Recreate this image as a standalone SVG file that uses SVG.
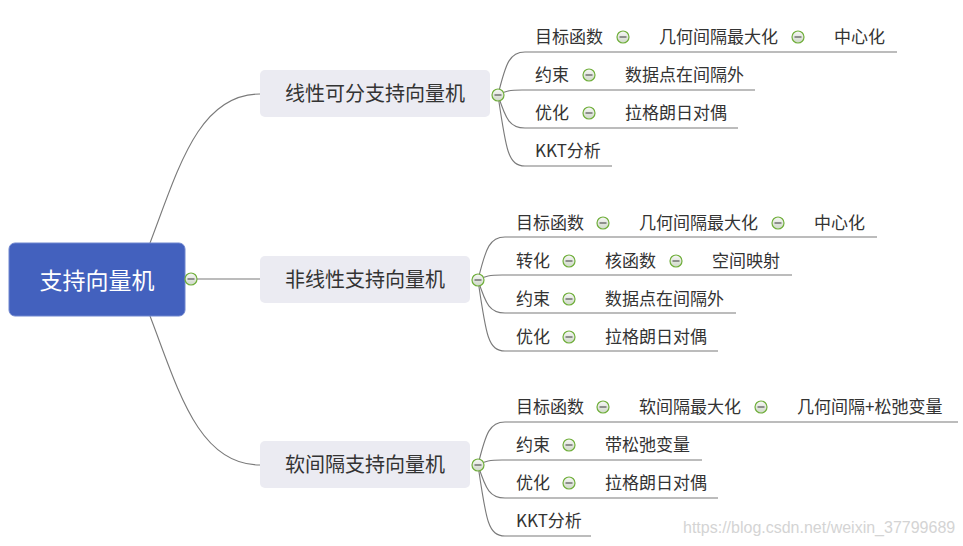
<svg xmlns="http://www.w3.org/2000/svg" width="963" height="546" viewBox="0 0 963 546">
<defs>
<linearGradient id="cg" x1="0" y1="0" x2="0" y2="1">
<stop offset="0" stop-color="#f7f7f7"/>
<stop offset="1" stop-color="#cfd8c8"/>
</linearGradient>
<symbol id="minus" viewBox="-7 -7 14 14" overflow="visible">
<circle cx="0" cy="0" r="6" fill="url(#cg)" stroke="#6fae3a" stroke-width="1.2"/>
<line x1="-3.5" y1="0" x2="3.5" y2="0" stroke="#555" stroke-width="1.2"/>
</symbol>
<style>
.t{font-family:"Noto Sans CJK SC","Microsoft YaHei",sans-serif;fill:#333;font-size:17px}
.l1{font-family:"Noto Sans CJK SC",sans-serif;fill:#333;font-size:20px;text-anchor:middle}
.root{font-family:"Noto Sans CJK SC",sans-serif;fill:#fff;font-size:23px;text-anchor:middle}
.c{fill:none;stroke:#7a7a7a;stroke-width:1.1}
.n1{fill:#ebebf2}
.wm{font-family:"Liberation Sans",Arial,sans-serif;fill:#d4d4d4;font-size:16px}
</style>
</defs>
<rect width="963" height="546" fill="#fff"/>
<g id="connectors">
<path class="c" d="M150,243 C178,170 198,94 260,94"/>
<path class="c" d="M150,316 C178,389 198,465 260,465"/>
<path class="c" d="M197,279 H260"/>
<path class="c" d="M498,95 C506,62 510,52 525,52 H897"/>
<path class="c" d="M498,95 C505,91 510,90 522,90 H755"/>
<path class="c" d="M498,95 C506,120 510,128 525,128 H738"/>
<path class="c" d="M498,95 C506,150 508,166 525,166 H612"/>
<path class="c" d="M478,280 C486,247 490,237 505,237 H877"/>
<path class="c" d="M478,280 C485,276 490,275 502,275 H792"/>
<path class="c" d="M478,280 C486,305 490,313 505,313 H736"/>
<path class="c" d="M478,280 C486,335 488,351 505,351 H718"/>
<path class="c" d="M478,465 C486,432 490,422 505,422 H958"/>
<path class="c" d="M478,465 C485,461 490,460 502,460 H702"/>
<path class="c" d="M478,465 C486,490 490,498 505,498 H718"/>
<path class="c" d="M478,465 C486,520 488,536 505,536 H591"/>
</g>
<g id="root">
<rect x="9" y="243" width="176" height="73" rx="6" fill="#4361be" stroke="#6f86cf" stroke-width="1"/>
<text class="root" x="97" y="288.5">支持向量机</text>
<use href="#minus" x="184" y="272" width="14" height="14"/>
</g>
<g id="n1">
<rect class="n1" x="260" y="70" width="230" height="47" rx="5"/>
<text class="l1" x="375" y="101">线性可分支持向量机</text>
<use href="#minus" x="491" y="88" width="14" height="14"/>
</g>
<g id="n2">
<rect class="n1" x="260" y="256" width="210" height="47" rx="5"/>
<text class="l1" x="365" y="287">非线性支持向量机</text>
<use href="#minus" x="471" y="273" width="14" height="14"/>
</g>
<g id="n3">
<rect class="n1" x="260" y="441" width="210" height="47" rx="5"/>
<text class="l1" x="365" y="472">软间隔支持向量机</text>
<use href="#minus" x="471" y="458" width="14" height="14"/>
</g>
<g id="g1-r1">
<text class="t" x="535" y="42.5">目标函数</text>
<use href="#minus" x="616" y="30" width="14" height="14"/>
<text class="t" x="659" y="42.5">几何间隔最大化</text>
<use href="#minus" x="791" y="30" width="14" height="14"/>
<text class="t" x="834" y="42.5">中心化</text>
</g>
<g id="g1-r2">
<text class="t" x="535" y="80.5">约束</text>
<use href="#minus" x="582" y="68" width="14" height="14"/>
<text class="t" x="625" y="80.5">数据点在间隔外</text>
</g>
<g id="g1-r3">
<text class="t" x="535" y="118.5">优化</text>
<use href="#minus" x="582" y="106" width="14" height="14"/>
<text class="t" x="625" y="118.5">拉格朗日对偶</text>
</g>
<g id="g1-r4">
<text class="t" x="535" y="156.5">KKT分析</text>
</g>
<g id="g2-r1">
<text class="t" x="516" y="228.5">目标函数</text>
<use href="#minus" x="596" y="216" width="14" height="14"/>
<text class="t" x="639" y="228.5">几何间隔最大化</text>
<use href="#minus" x="771" y="216" width="14" height="14"/>
<text class="t" x="814" y="228.5">中心化</text>
</g>
<g id="g2-r2">
<text class="t" x="516" y="266.5">转化</text>
<use href="#minus" x="562" y="254" width="14" height="14"/>
<text class="t" x="605" y="266.5">核函数</text>
<use href="#minus" x="669" y="254" width="14" height="14"/>
<text class="t" x="712" y="266.5">空间映射</text>
</g>
<g id="g2-r3">
<text class="t" x="516" y="304.5">约束</text>
<use href="#minus" x="562" y="292" width="14" height="14"/>
<text class="t" x="605" y="304.5">数据点在间隔外</text>
</g>
<g id="g2-r4">
<text class="t" x="516" y="342.5">优化</text>
<use href="#minus" x="562" y="330" width="14" height="14"/>
<text class="t" x="605" y="342.5">拉格朗日对偶</text>
</g>
<g id="g3-r1">
<text class="t" x="516" y="412.5">目标函数</text>
<use href="#minus" x="596" y="400" width="14" height="14"/>
<text class="t" x="639" y="412.5">软间隔最大化</text>
<use href="#minus" x="754" y="400" width="14" height="14"/>
<text class="t" x="797" y="412.5">几何间隔+松弛变量</text>
</g>
<g id="g3-r2">
<text class="t" x="516" y="450.5">约束</text>
<use href="#minus" x="562" y="438" width="14" height="14"/>
<text class="t" x="605" y="450.5">带松弛变量</text>
</g>
<g id="g3-r3">
<text class="t" x="516" y="488.5">优化</text>
<use href="#minus" x="562" y="476" width="14" height="14"/>
<text class="t" x="605" y="488.5">拉格朗日对偶</text>
</g>
<g id="g3-r4">
<text class="t" x="516" y="527">KKT分析</text>
</g>
<text class="wm" x="683" y="532.5">https://blog.csdn.net/weixin_37799689</text>
</svg>
